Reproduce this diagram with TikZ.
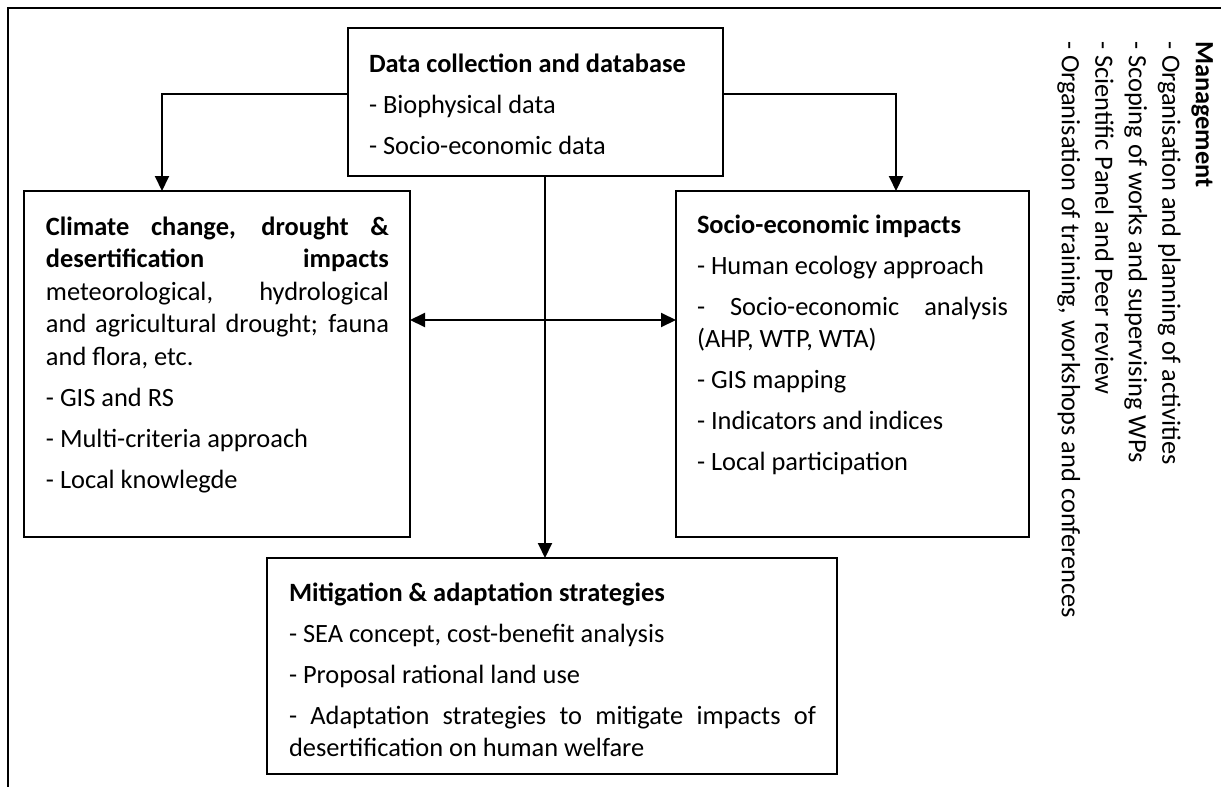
\documentclass[tikz,border=0pt]{standalone}
\usepackage{fontspec}
\setmainfont{Carlito}
\usetikzlibrary{arrows.meta}

\begin{document}
\begin{tikzpicture}[x=0.5pt, y=-0.5pt, line width=1pt,
      >={Triangle[length=7.5pt, width=7pt]},
      box/.style={draw, rectangle, inner sep=0pt, outer sep=0pt},
      txt/.style={anchor=base west, inner sep=0pt, text width=#1,
        align=justify, font=\fontsize{13.2pt}{16.25pt}\selectfont,
        execute at begin node={\setlength{\parskip}{4.25pt}%
          \hyphenpenalty=10000 \exhyphenpenalty=10000 }}]
    \useasboundingbox (0,0) rectangle (1221,787);
    % frame, open to the right and at the bottom
    \draw (8,787) -- (8,8) -- (1221,8);

    % boxes
    \node[box, minimum width=187.5pt, minimum height=74pt] (data) at (535.5,102) {};
    \node[box, minimum width=193pt, minimum height=173pt] (clim) at (217,364) {};
    \node[box, minimum width=176.5pt, minimum height=173pt] (socio) at (852.5,364) {};
    \node[box, minimum width=285pt, minimum height=108pt] (mitig) at (552,666) {};

    \node[txt=166pt] (datatxt) at ([xshift=10pt, yshift=-22pt]data.north west)
      {\textbf{Data collection and database}\par
       - Biophysical data\par
       - Socio-economic data};
    \node[txt=171.5pt] (climtxt) at ([xshift=10.5pt, yshift=-22pt]clim.north west)
      {\textbf{Climate change, drought \&\linebreak desertification impacts}\linebreak
       meteorological, hydrological\linebreak and agricultural drought; fauna\linebreak
       and flora, etc.\par
       - GIS and RS\par
       - Multi-criteria approach\par
       - Local knowlegde};
    \node[txt=155.5pt] (sociotxt) at ([xshift=10pt, yshift=-21pt]socio.north west)
      {\textbf{Socio-economic impacts}\par
       - Human ecology approach\par
       - Socio-economic analysis\linebreak (AHP, WTP, WTA)\par
       - GIS mapping\par
       - Indicators and indices\par
       - Local participation};
    \node[txt=263.5pt] (mitigtxt) at ([xshift=10.5pt, yshift=-21.5pt]mitig.north west)
      {\textbf{Mitigation \& adaptation strategies}\par
       - SEA concept, cost-benefit analysis\par
       - Proposal rational land use\par
       - Adaptation strategies to mitigate impacts of\linebreak
       desertification on human welfare};

    % management column, turned to read downwards
    \node[rotate=-90, anchor=north west, inner sep=0pt, align=left,
      font=\fontsize{13.2pt}{16.75pt}\selectfont] (mgmt) at (1214,40)
      {\textbf{Management}\\
       - Organisation and planning of activities\\
       - Scoping of works and supervising WPs\\
       - Scientific Panel and Peer review\\
       - Organisation of training, workshops and conferences};

    % connectors
    \coordinate (lturn) at (162,94);
    \coordinate (rturn) at (896,94);
    \coordinate (mid) at (545,320);
    \draw[->] (data.west |- lturn) -| (clim.north -| lturn);
    \draw[->] (data.east |- rturn) -| (socio.north -| rturn);
    \draw[->] (data.south -| mid) -- (mitig.north -| mid);
    \draw[<->] (clim.east |- mid) -- (socio.west |- mid);
\end{tikzpicture}
\end{document}
